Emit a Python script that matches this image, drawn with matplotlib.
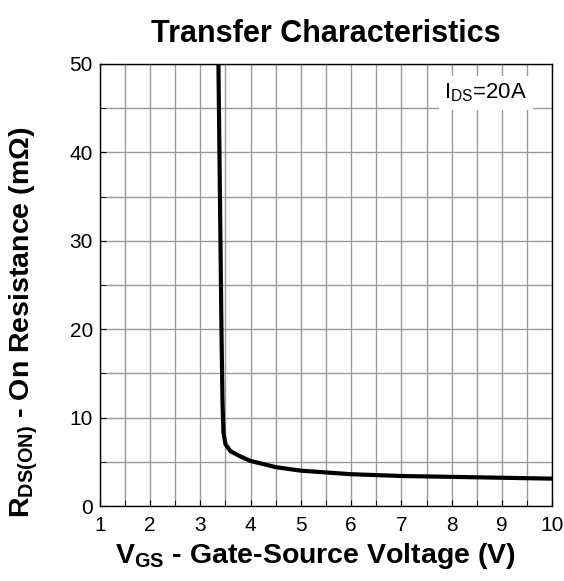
import matplotlib
matplotlib.use("Agg")
import matplotlib.pyplot as plt
import numpy as np

# curve
vgs = [3.36, 3.38, 3.40, 3.42, 3.44, 3.46, 3.50, 3.60, 3.80, 4.0, 4.5, 5.0, 6.0, 7.0, 8.0, 9.0, 10.0]
rds = [50.0, 40.0, 30.0, 20.0, 12.0, 8.3, 7.0, 6.2, 5.6, 5.1, 4.4, 4.0, 3.6, 3.4, 3.3, 3.2, 3.1]

xticks = [1, 2, 3, 4, 5, 6, 7, 8, 9, 10]
yticks = [0, 10, 20, 30, 40, 50]

plt.rcParams['font.family'] = ['Liberation Sans', 'DejaVu Sans']
plt.rcParams['mathtext.fontset'] = 'custom'
plt.rcParams['mathtext.rm'] = 'Liberation Sans'
plt.rcParams['mathtext.bf'] = 'Liberation Sans:bold'

fig = plt.figure(figsize=(5.64, 5.81), dpi=100)
ax = fig.add_axes([0.177, 0.129, 0.802, 0.761])

ax.plot(vgs, rds, color='black', lw=3.0, solid_capstyle='butt', zorder=3)

ax.set_xlim(1, 10)
ax.set_ylim(0, 50)
ax.set_xticks(xticks)
ax.set_yticks(yticks)
ax.set_xticks(np.arange(1, 10.01, 0.5), minor=True)
ax.set_yticks(np.arange(0, 50.01, 5), minor=True)
ax.grid(which='both', color='#9a9a9a', lw=1.0)
ax.tick_params(which='both', direction='in', length=4, labelsize=15)
ax.tick_params(axis='x', pad=7)
ax.tick_params(axis='y', pad=5)
for s in ax.spines.values():
    s.set_linewidth(1.0)

ax.text(0.945, 0.96, r'I$_{\mathregular{DS}}$=20A', transform=ax.transAxes,
        ha='right', va='top', fontsize=16,
        bbox=dict(facecolor='white', edgecolor='none', pad=4), zorder=4)

ax.set_title('Transfer Characteristics', fontsize=22, fontweight='bold', pad=16)
ax.set_xlabel(r'$\mathbf{V_{GS}}$ - Gate-Source Voltage (V)', fontsize=20.5,
              fontweight='bold')
ax.set_ylabel(r'$\mathbf{R_{DS(ON)}}$ - On Resistance (m$\mathbf{\Omega}$)', fontsize=20.5,
              fontweight='bold')
ax.xaxis.set_label_coords(0.476, -0.08)
ax.yaxis.set_label_coords(-0.133, 0.415)

fig.savefig('out.png', dpi=100)
